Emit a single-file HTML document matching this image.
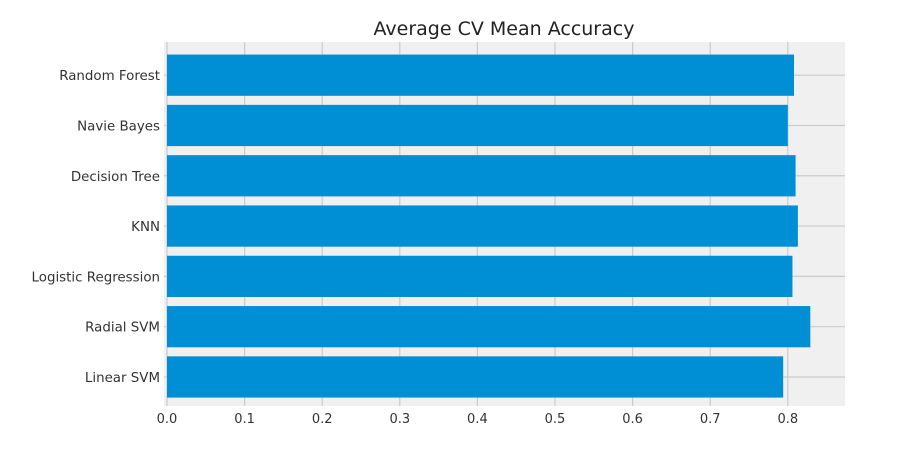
<!DOCTYPE html>
<html><head><meta charset="utf-8"><style>
body{margin:0;background:#fff}
svg text{font-family:"DejaVu Sans","Liberation Sans",sans-serif}
</style></head><body>
<svg id="chart" width="897" height="447" xmlns="http://www.w3.org/2000/svg">
<rect x="164" y="42" width="681" height="364" fill="#f0f0f0"/>
<g id="grid"></g><g id="bars"></g><g id="ylabels"></g><g id="xlabels"></g>
<text x="504" y="35" text-anchor="middle" font-size="19" fill="#222">Average CV Mean Accuracy</text>
</svg>
<script>
const categories=["Linear SVM","Radial SVM","Logistic Regression","KNN","Decision Tree","Navie Bayes","Random Forest"];
const values=[0.794,0.829,0.806,0.813,0.810,0.800,0.808];
const xTicks=[0,0.1,0.2,0.3,0.4,0.5,0.6,0.7,0.8];
const tickLabels=["0.0","0.1","0.2","0.3","0.4","0.5","0.6","0.7","0.8"];
const ns="http://www.w3.org/2000/svg";
const x=v=>167+v*776;
const pitch=50.3, yTop=45;
const yc=i=>yTop+(categories.length-1-i+0.6)*pitch;
function mk(t,a,p){const e=document.createElementNS(ns,t);for(const k in a)e.setAttribute(k,a[k]);p.appendChild(e);return e;}
const g=document.getElementById('grid'),b=document.getElementById('bars'),yl=document.getElementById('ylabels'),xl=document.getElementById('xlabels');
xTicks.forEach((v,i)=>{
 const l=mk('line',{x1:x(v),x2:x(v),y1:42,y2:406,stroke:'#cbcbcb','stroke-width':1.2},g);
 
 
 const t=mk('text',{x:x(v),y:423,'text-anchor':'middle','font-size':13,fill:'#333'},xl);
 t.textContent=tickLabels[i];
 
 
});
categories.forEach((c,i)=>{
 const l=mk('line',{x1:164,x2:845,y1:yc(i),y2:yc(i),stroke:'#cbcbcb','stroke-width':1.2},g);
 
 
 const r=mk('rect',{x:x(0),y:yc(i)-0.41*pitch,width:x(values[i])-x(0),height:0.82*pitch,fill:'#008fd5'},b);
 
 
 const t=mk('text',{x:160,y:yc(i)+5,'text-anchor':'end','font-size':13.4,fill:'#333'},yl);
 t.textContent=c;
 
 
});
</script>
</body></html>
